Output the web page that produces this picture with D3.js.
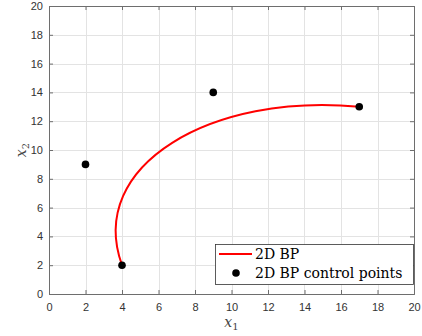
<!DOCTYPE html>
<html><head><meta charset="utf-8">
<script src="https://cdn.jsdelivr.net/npm/d3@7"></script>
<style>body{margin:0;background:#fff}svg{display:block}</style>
</head><body>
<script>
const ctrlX = [4, 2, 9, 17];
const ctrlY = [2, 9, 14, 13];
const xTicks = [0,2,4,6,8,10,12,14,16,18,20];
const yTicks = [0,2,4,6,8,10,12,14,16,18,20];
const legendLabels = ["2D BP", "2D BP control points"];

const W = 422, H = 336;
const L = 49, R = 414, T = 6, B = 294;
const svg = d3.select("body").append("svg").attr("width", W).attr("height", H);
const x = d3.scaleLinear().domain([0,20]).range([L, R]);
const y = d3.scaleLinear().domain([0,20]).range([B, T]);

// grid
const g = svg.append("g");
g.selectAll(".gx").data(xTicks).join("line")
  .attr("x1", d => Math.round(x(d))+0.5).attr("x2", d => Math.round(x(d))+0.5)
  .attr("y1", T).attr("y2", B).attr("stroke", "#e3e3e3");
g.selectAll(".gy").data(yTicks).join("line")
  .attr("y1", d => Math.round(y(d))+0.5).attr("y2", d => Math.round(y(d))+0.5)
  .attr("x1", L).attr("x2", R).attr("stroke", "#e3e3e3");

// axes
const tickFmt = d3.format("d");
const axB = svg.append("g").attr("transform", `translate(0,${B})`)
  .call(d3.axisBottom(x).tickValues(xTicks).tickSize(-4).tickPadding(9).tickFormat(tickFmt));
const axL = svg.append("g").attr("transform", `translate(${L},0)`)
  .call(d3.axisLeft(y).tickValues(yTicks).tickSize(-4).tickPadding(6).tickFormat(tickFmt));
const axT = svg.append("g").attr("transform", `translate(0,${T})`)
  .call(d3.axisTop(x).tickValues(xTicks).tickSize(-4).tickFormat(""));
const axR = svg.append("g").attr("transform", `translate(${R},0)`)
  .call(d3.axisRight(y).tickValues(yTicks).tickSize(-4).tickFormat(""));
[axB, axL, axT, axR].forEach(a => {
  a.select(".domain").attr("stroke", "#6e6e6e");
  a.selectAll(".tick line").attr("stroke", "#6e6e6e");
  a.selectAll("text").attr("fill", "#333").style("font-family", "Liberation Sans, Arial, sans-serif").style("font-size", "11px");
});

// curve
const p = d3.path();
p.moveTo(x(ctrlX[0]), y(ctrlY[0]));
p.bezierCurveTo(x(ctrlX[1]), y(ctrlY[1]), x(ctrlX[2]), y(ctrlY[2]), x(ctrlX[3]), y(ctrlY[3]));
svg.append("path").attr("d", p.toString()).attr("fill", "none").attr("stroke", "#ff0000").attr("stroke-width", 2);

// control points
svg.selectAll(".pt").data(ctrlX.map((d,i) => [d, ctrlY[i]])).join("circle")
  .attr("cx", d => x(d[0])).attr("cy", d => y(d[1])).attr("r", 3.8).attr("fill", "#000");

// axis labels
const serif = "'DejaVu Serif', 'Liberation Serif', serif";
const xl = svg.append("text").attr("x", x(10)).attr("y", 327).attr("text-anchor", "middle")
  .style("font-family", serif).style("font-size", "14px").attr("fill", "#444");
xl.append("tspan").attr("font-style", "italic").text("x");
xl.append("tspan").attr("dy", 3).style("font-size", "10px").text("1");
const yl = svg.append("text").attr("transform", `translate(26,${y(10)}) rotate(-90)`).attr("text-anchor", "middle")
  .style("font-family", serif).style("font-size", "14px").attr("fill", "#444");
yl.append("tspan").attr("font-style", "italic").text("x");
yl.append("tspan").attr("dy", 3).style("font-size", "10px").text("2");

// legend
const lg = svg.append("g");
lg.append("rect").attr("x", 215.5).attr("y", 244.5).attr("width", 198).attr("height", 40)
  .attr("fill", "#fff").attr("stroke", "#333").attr("stroke-width", 0.8);
lg.append("line").attr("x1", 219).attr("x2", 252).attr("y1", 254).attr("y2", 254)
  .attr("stroke", "#ff0000").attr("stroke-width", 2);
lg.append("circle").attr("cx", 236).attr("cy", 273).attr("r", 3.8).attr("fill", "#000");
lg.selectAll(".lt").data(legendLabels).join("text")
  .attr("x", 255).attr("y", (d,i) => 259 + i*19)
  .style("font-family", serif).style("font-size", "14px").attr("fill", "#000").text(d => d);
</script>
</body></html>
